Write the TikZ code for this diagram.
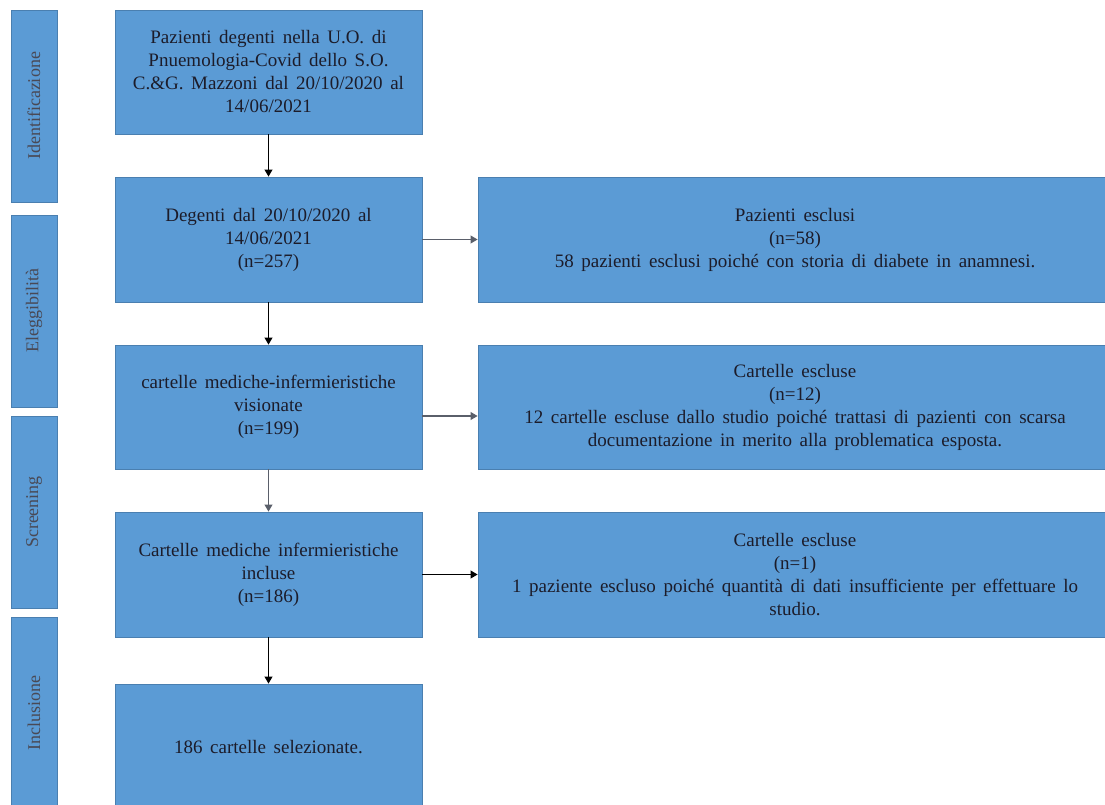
\documentclass[tikz,border=0pt]{standalone}
\usepackage{fontspec}
\setmainfont{Liberation Serif}
\usetikzlibrary{arrows.meta}
\definecolor{boxblue}{HTML}{5B9BD5}
\definecolor{boxedge}{HTML}{4A7FB0}
\definecolor{txt}{HTML}{1C1C2A}
\definecolor{arrgray}{HTML}{5A5F6A}
\newcommand{\boxfont}{\fontsize{19}{23}\selectfont\spaceskip=0.4em plus 0.1em minus 0.05em\relax}
\tikzset{
  mainbox/.style={draw=boxedge, line width=0.9pt, fill=boxblue, text=txt, inner sep=0pt,
    minimum width=307pt, minimum height=124pt, align=center, font=\boxfont},
  sidebox/.style={draw=boxedge, line width=0.9pt, fill=boxblue, text=txt, inner sep=0pt,
    minimum width=634pt, minimum height=125pt, align=center, font=\boxfont},
  phasebar/.style={draw=boxedge, line width=0.9pt, fill=boxblue, inner sep=0pt,
    minimum width=46pt, minimum height=192pt},
  phaselabel/.style={text=txt!80, rotate=90, font=\fontsize{18}{21}\selectfont},
  arr/.style={line width=1.1pt, -{Triangle[width=8pt,length=7pt]}},
}
\begin{document}
\begin{tikzpicture}[x=1pt,y=-1pt]
\useasboundingbox (0,0) rectangle (1105,805);
% phase bars
\node[phasebar] (p1) at (34,106) {};
\node[phaselabel] (l1) at (p1.center) {Identificazione};
\node[phasebar] (p2) at (34,311) {};
\node[phaselabel] (l2) at (p2.center) {Eleggibilità};
\node[phasebar] (p3) at (34,512) {};
\node[phaselabel] (l3) at (p3.center) {Screening};
\node[phasebar, minimum height=200pt] (p4) at (34,717) {};
\node[phaselabel] (l4) at (34,713) {Inclusione};
% main column
\node[mainbox] (b1) at (268.5,72) {Pazienti degenti nella U.O. di\\ Pnuemologia-Covid dello S.O.\\ C.\&G. Mazzoni dal 20/10/2020 al\\ 14/06/2021};
\node[mainbox, minimum height=125pt] (b2) at (268.5,239.5) {Degenti dal 20/10/2020 al\\ 14/06/2021\\ (n=257)};
\node[mainbox] (b3) at (268.5,407) {cartelle mediche-infermieristiche\\ visionate\\ (n=199)};
\node[mainbox, minimum height=125pt] (b4) at (268.5,574.5) {Cartelle mediche infermieristiche\\ incluse\\ (n=186)};
\node[mainbox, minimum height=134pt] (b5) at (268.5,751) {};
\node[text=txt, font=\boxfont] (t5) at (268.5,747) {186 cartelle selezionate.};
% right column
\node[sidebox] (r1) at (795,239.5) {Pazienti esclusi\\ (n=58)\\ 58 pazienti esclusi poiché con storia di diabete in anamnesi.};
\node[sidebox, minimum height=124pt] (r2) at (795,407) {Cartelle escluse\\ (n=12)\\ 12 cartelle escluse dallo studio poiché trattasi di pazienti con scarsa\\ documentazione in merito alla problematica esposta.};
\node[sidebox] (r3) at (795,574.5) {Cartelle escluse\\ (n=1)\\ 1 paziente escluso poiché quantità di dati insufficiente per effettuare lo\\ studio.};
% connectors
\draw[arr, black] (b1.south) -- (b2.north);
\draw[arr, black] (b2.south) -- (b3.north);
\draw[arr, arrgray] (b3.south) -- (b4.north);
\draw[arr, black] (b4.south) -- (b5.north);
\draw[arr, arrgray] (b2.east) -- (r1.west);
\coordinate (b3a) at ([yshift=-9pt]b3.east);
\draw[arr, arrgray] (b3a) -- (b3a -| r2.west);
\draw[arr, black] (b4.east) -- (r3.west);
\end{tikzpicture}
\end{document}
